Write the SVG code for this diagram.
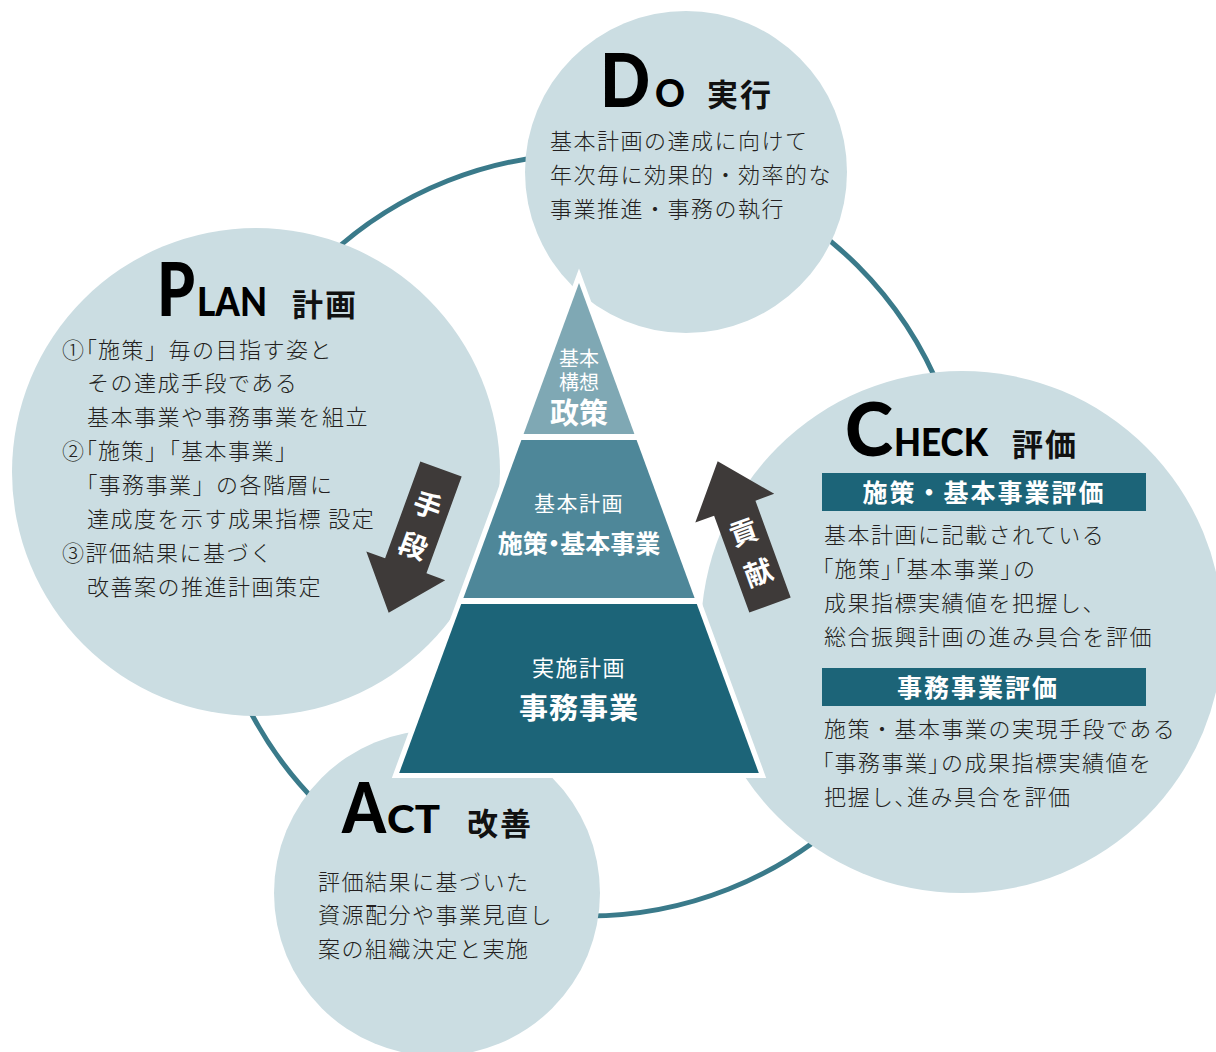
<svg xmlns="http://www.w3.org/2000/svg" width="1216" height="1052" viewBox="0 0 1216 1052">
<defs>
<style>
.circ{fill:#cbdde2}
.ring{fill:none;stroke:#3a7a8a;stroke-width:5}
.body{font-family:"Noto Sans CJK JP","Noto Sans CJK SC",sans-serif;font-size:22px;font-weight:300;letter-spacing:1.5px;fill:#231f20}
.p{font-feature-settings:"palt"}
.hj{font-family:"Noto Sans CJK JP","Noto Sans CJK SC",sans-serif;font-weight:700;font-size:31px;letter-spacing:2px;fill:#111}
.big{font-family:Lato,"DejaVu Sans",sans-serif;font-weight:900;fill:#000}
.pw{font-family:"Noto Sans CJK JP","Noto Sans CJK SC",sans-serif;fill:#fff;text-anchor:middle}
.pb{font-weight:700}
.bar{fill:#1c6478}
.bart{font-family:"Noto Sans CJK JP","Noto Sans CJK SC",sans-serif;font-weight:700;font-size:25px;letter-spacing:2px;fill:#fff;text-anchor:middle}
.arrow{fill:#3e3a39}
.at{font-family:"Noto Sans CJK JP","Noto Sans CJK SC",sans-serif;font-weight:700;font-size:28px;fill:#fff;text-anchor:middle}
</style>
</defs>
<rect width="1216" height="1052" fill="#fff"/>

<g id="cycle">
<circle class="ring" cx="588" cy="535" r="381"/>
</g>

<g id="do">
<circle class="circ" cx="686" cy="172" r="161"/>
<text class="big" transform="translate(600,107) scale(0.88,1)" x="0" y="0" font-size="75">D</text>
<text class="big" x="655" y="107" font-size="37" textLength="30" lengthAdjust="spacingAndGlyphs">O</text>
<text class="hj" x="707" y="106">実行</text>
<text class="body" x="550" y="149">基本計画の達成に向けて</text>
<text class="body" x="550" y="183">年次毎に効果的・効率的な</text>
<text class="body" x="550" y="217">事業推進・事務の執行</text>
</g>

<g id="plan">
<circle class="circ" cx="256" cy="472" r="244"/>
<text class="big" x="157" y="316" font-size="74" textLength="38" lengthAdjust="spacingAndGlyphs">P</text>
<text class="big" x="197" y="316" font-size="40" textLength="70" lengthAdjust="spacingAndGlyphs">LAN</text>
<text class="hj" x="292" y="316">計画</text>
<text class="body" x="62" y="358"><tspan class="p">①「</tspan>施策」毎の目指す姿と</text>
<text class="body" x="87" y="391">その達成手段である</text>
<text class="body" x="87" y="425">基本事業や事務事業を組立</text>
<text class="body" x="62" y="459"><tspan class="p">②「</tspan>施策」<tspan class="p">「</tspan>基本事業」</text>
<text class="body" x="86" y="493"><tspan class="p">「</tspan>事務事業」の各階層に</text>
<text class="body" x="87" y="527">達成度を示す成果指標 設定</text>
<text class="body" x="62" y="561">③評価結果に基づく</text>
<text class="body" x="87" y="595">改善案の推進計画策定</text>
</g>

<g id="check">
<circle class="circ" cx="962" cy="632" r="261"/>
<text class="big" x="845" y="456" font-size="74" textLength="48" lengthAdjust="spacingAndGlyphs">C</text>
<text class="big" x="894" y="456" font-size="38" textLength="94" lengthAdjust="spacingAndGlyphs">HECK</text>
<text class="hj" x="1012" y="456">評価</text>
<rect class="bar" x="822" y="473" width="324" height="38"/>
<text class="bart" x="984" y="502">施策・基本事業評価</text>
<text class="body" x="824" y="543">基本計画に記載されている</text>
<text class="body" x="822" y="577"><tspan class="p">「</tspan>施策<tspan class="p">」「</tspan>基本事業<tspan class="p">」</tspan>の</text>
<text class="body" x="824" y="611">成果指標実績値を把握し、</text>
<text class="body" x="824" y="645">総合振興計画の進み具合を評価</text>
<rect class="bar" x="822" y="668" width="324" height="38"/>
<text class="bart" x="978" y="697">事務事業評価</text>
<text class="body" x="824" y="737">施策・基本事業の実現手段である</text>
<text class="body" x="822" y="771"><tspan class="p">「</tspan>事務事業<tspan class="p">」</tspan>の成果指標実績値を</text>
<text class="body" x="824" y="805">把握し<tspan class="p">、</tspan>進み具合を評価</text>
</g>

<g id="act">
<circle class="circ" cx="437" cy="893" r="163"/>
<text class="big" x="342" y="833" font-size="70" textLength="44" lengthAdjust="spacingAndGlyphs">A</text>
<text class="big" x="387" y="833" font-size="37" textLength="53" lengthAdjust="spacingAndGlyphs">CT</text>
<text class="hj" x="467" y="835">改善</text>
<text class="body" x="318" y="890">評価結果に基づいた</text>
<text class="body" x="318" y="923">資源配分や事業見直し</text>
<text class="body" x="318" y="957">案の組織決定と実施</text>
</g>

<g id="pyramid">
<polygon points="579,283 399,773 759,773" fill="#fff" stroke="#fff" stroke-width="10" stroke-linejoin="miter" stroke-miterlimit="10"/>
<g id="tier-policy">
<polygon points="579,283 523.6,434 634.4,434" fill="#7fa8b4"/>
<text class="pw" x="579" y="366" font-size="20"><tspan x="579" y="366">基本</tspan><tspan x="579" y="390">構想</tspan><tspan x="579" y="424" font-size="29" font-weight="700">政策</tspan></text>
</g>
<g id="tier-basic">
<polygon points="521.4,440 636.6,440 694.6,598 463.4,598" fill="#4e8799"/>
<text class="pw" x="579" y="511" font-size="21" letter-spacing="1.5">基本計画</text>
<text class="pw pb" x="579" y="553" font-size="25">施策<tspan class="p">・</tspan>基本事業</text>
</g>
<g id="tier-impl">
<polygon points="461.2,604 696.8,604 758.8,773 399.2,773" fill="#1c6478"/>
<text class="pw" x="579" y="676" font-size="22" letter-spacing="1.5">実施計画</text>
<text class="pw pb" x="579" y="719" font-size="29" letter-spacing="1">事務事業</text>
</g>
</g>

<g id="connectors">
<g id="arrow-means" transform="translate(441,469) rotate(20)">
<path class="arrow" d="M-22,0 L22,0 L22,103 L42,103 L0,153 L-42,103 L-22,103 Z"/>
<text class="at" x="0" y="49">手</text>
<text class="at" x="0" y="92">段</text>
</g>
<g id="arrow-contrib" transform="translate(770,605) rotate(-20)">
<path class="arrow" d="M-22,0 L22,0 L22,-103 L42,-103 L0,-153 L-42,-103 L-22,-103 Z"/>
<text class="at" x="0" y="-67">貢</text>
<text class="at" x="0" y="-24">献</text>
</g>
</g>
</svg>
